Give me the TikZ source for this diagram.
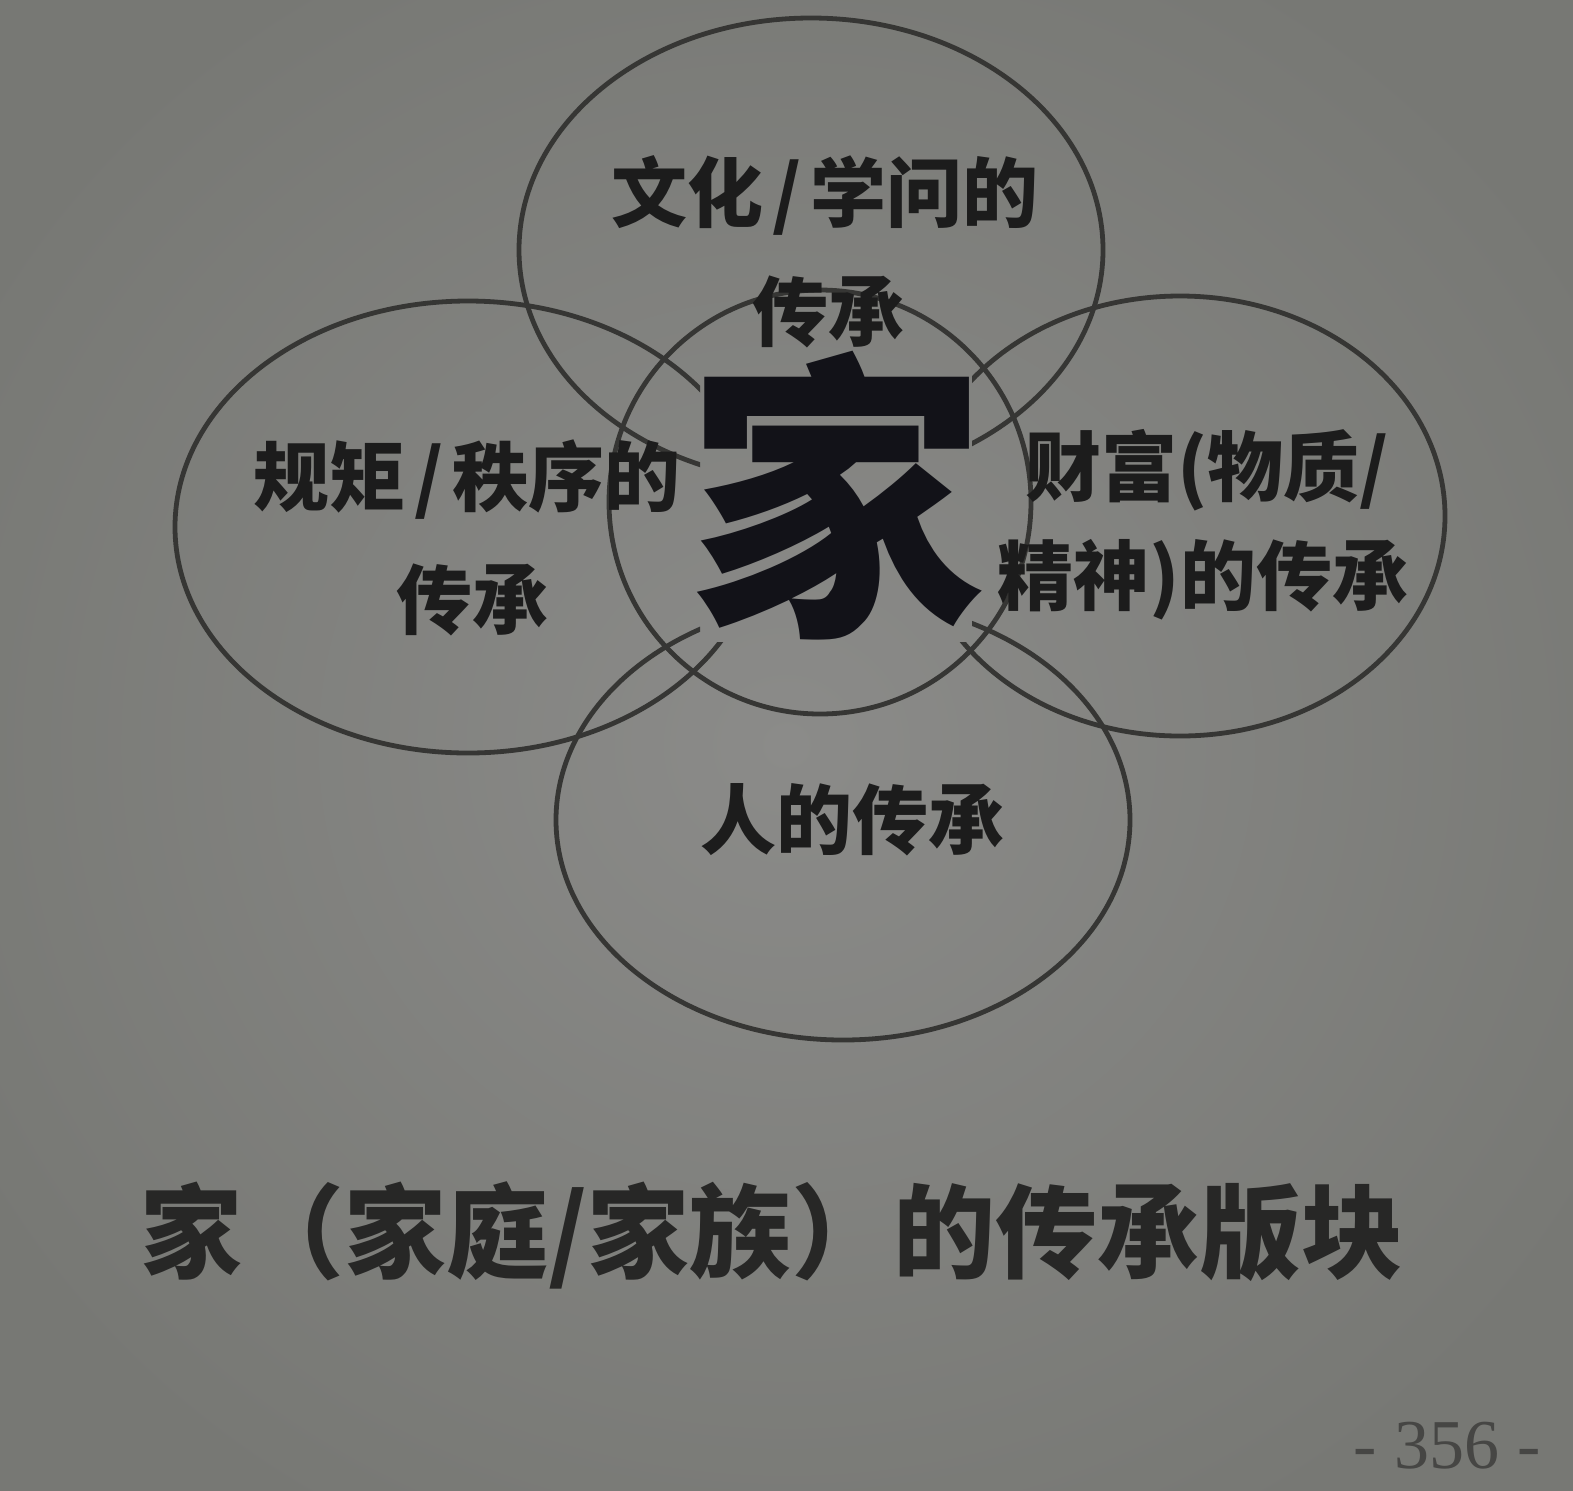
\documentclass[tikz,border=0pt]{standalone}
\usepackage{fontspec}
\newfontfamily\cjk{Noto Sans CJK SC}
\newfontfamily\pagefont{Liberation Serif}
\definecolor{bginner}{HTML}{8B8B89}
\definecolor{bgouter}{HTML}{777874}
\definecolor{bgmid}{HTML}{858583}
\definecolor{linegray}{HTML}{363634}
\definecolor{ink}{HTML}{1C1C1C}
\definecolor{jiaink}{HTML}{121218}
\newcommand{\slsh}{\hspace{0.12em}/\hspace{0.12em}}
\begin{document}
\begin{tikzpicture}[x=0.5pt,y=-0.5pt,
  ring/.style={draw=linegray, line width=2.4pt},
  lbl/.style={inner sep=0pt, text=ink, font=\cjk\bfseries\fontsize{38}{44}\selectfont},
  caption/.style={inner sep=0pt, text=ink!90!bgmid, font=\cjk\bfseries\fontsize{51}{58}\selectfont},
  bigchar/.style={inner sep=0pt, text=jiaink, font=\cjk\bfseries\fontsize{150}{160}\selectfont},
  pagenum/.style={inner sep=0pt, text=linegray!80!bgmid, font=\pagefont\fontsize{35}{40}\selectfont}]
\useasboundingbox (0,0) rectangle (1573,1490);
\shade[inner color=bginner, outer color=bgouter] (-150,-150) rectangle (1723,1640);
% rings, with a hole left around the big character
\begin{scope}
  \clip (0,0) -- (1573,0) -- (1573,1490) -- (0,1490) -- cycle
        (700,355) -- (700,642) -- (972,642) -- (972,355) -- cycle;
  \draw[ring] (811,250) ellipse [x radius=292, y radius=232];
  \draw[ring] (468,527) ellipse [x radius=293, y radius=226];
  \draw[ring] (1180,516) ellipse [x radius=265, y radius=220];
  \draw[ring] (843,820) ellipse [x radius=287, y radius=220];
\end{scope}
\draw[ring] (820,502) circle [x radius=211, y radius=212];
\node[bigchar] (jia) at (836,496) {家};
% labels
\node[lbl] (t1) at (825,195) {文化\slsh 学问的};
\node[lbl] (t2) at (828,312) {传承};
\node[lbl] (l1) at (467,480) {规矩\slsh 秩序的};
\node[lbl] (l2) at (472,600) {传承};
\node[lbl] (r1) at (1207,470) {财富(物质/};
\node[lbl] (r2) at (1203,580) {精神)的传承};
\node[lbl] (b1) at (852,820) {人的传承};
\node[caption] (cap) at (772,1235) {家（家庭/家族）的传承版块};
\node[pagenum] (pg) at (1447,1446) {- 356 -};
\end{tikzpicture}
\end{document}
